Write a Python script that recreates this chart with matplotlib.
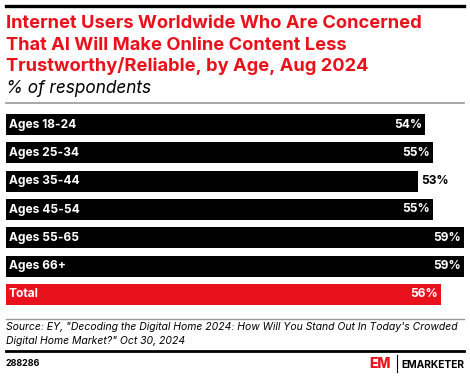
import matplotlib.pyplot as plt
from matplotlib.lines import Line2D

# data
labels = ["Ages 18-24", "Ages 25-34", "Ages 35-44", "Ages 45-54", "Ages 55-65", "Ages 66+", "Total"]
values = [54, 55, 53, 55, 59, 59, 56]
colors = ["#000000"] * 6 + ["#e8111c"]

W, H = 470, 376
RED = "#e8111c"
plt.rcParams['font.family'] = ['Inter', 'DejaVu Sans']

fig = plt.figure(figsize=(W / 100, H / 100), dpi=100)

def px(x, y):
    # pixel coords (top-left origin) -> figure fraction
    return x / W, 1 - y / H

def hline(y, color, lw, x0=6, x1=464):
    fig.add_artist(Line2D([x0 / W, x1 / W], [1 - y / H, 1 - y / H], color=color, lw=lw,
                          transform=fig.transFigure))

# header
hline(6, "#000000", 2.4)
title = ["Internet Users Worldwide Who Are Concerned",
         "That AI Will Make Online Content Less",
         "Trustworthy/Reliable, by Age, Aug 2024"]
for i, line in enumerate(title):
    fig.text(*px(6, 28 + i * 21.5), line, color=RED, fontsize=13.2, fontweight='bold',
             va='baseline', ha='left')
fig.text(*px(6, 93), "% of respondents", color="#000000", fontsize=12.4, style='italic',
         va='baseline', ha='left')
hline(102.5, "#999999", 1.2)

# bars
top, bottom = 110.4, 308.6
ax = fig.add_axes([6 / W, 1 - bottom / H, (464.3 - 6) / W, (bottom - top) / H])
ypos = list(range(len(labels)))
ax.barh(ypos, values, height=0.745, color=colors)
ax.set_xlim(0, 59)
ax.set_ylim(len(labels) - 0.5, -0.5)
ax.axis('off')

for y, lab, v in zip(ypos, labels, values):
    ax.text(0.4, y, lab, color='white', fontsize=8.6, fontweight='bold', va='center', ha='left')
    if v == min(values):
        ax.text(v + 0.4, y, f"{v}%", color='black', fontsize=8.6, fontweight='bold',
                va='center', ha='left')
    else:
        ax.text(v - 0.4, y, f"{v}%", color='white', fontsize=8.6, fontweight='bold',
                va='center', ha='right')

# footer
hline(319, "#999999", 1.0)
fig.text(*px(6, 330.5), "Source: EY, \"Decoding the Digital Home 2024: How Will You Stand Out In Today's Crowded",
         fontsize=7.5, style='italic', va='baseline', ha='left')
fig.text(*px(6, 344.3), "Digital Home Market?\" Oct 30, 2024",
         fontsize=7.5, style='italic', va='baseline', ha='left')
hline(351, "#000000", 2.0)
fig.text(*px(6, 365.5), "288286", fontsize=6.5, fontweight='bold', va='baseline', ha='left')

# logo
fig.text(*px(369, 368.5), "EM", color=RED, fontsize=10, fontweight='heavy', va='baseline', ha='left')
fig.add_artist(Line2D([396.5 / W, 396.5 / W], [1 - 355 / H, 1 - 372 / H], color="#000000", lw=0.8,
                      transform=fig.transFigure))
fig.text(*px(464, 367.5), "EMARKETER", fontsize=7.4, fontweight='bold', va='baseline', ha='right')

fig.savefig("out.png", dpi=100)
